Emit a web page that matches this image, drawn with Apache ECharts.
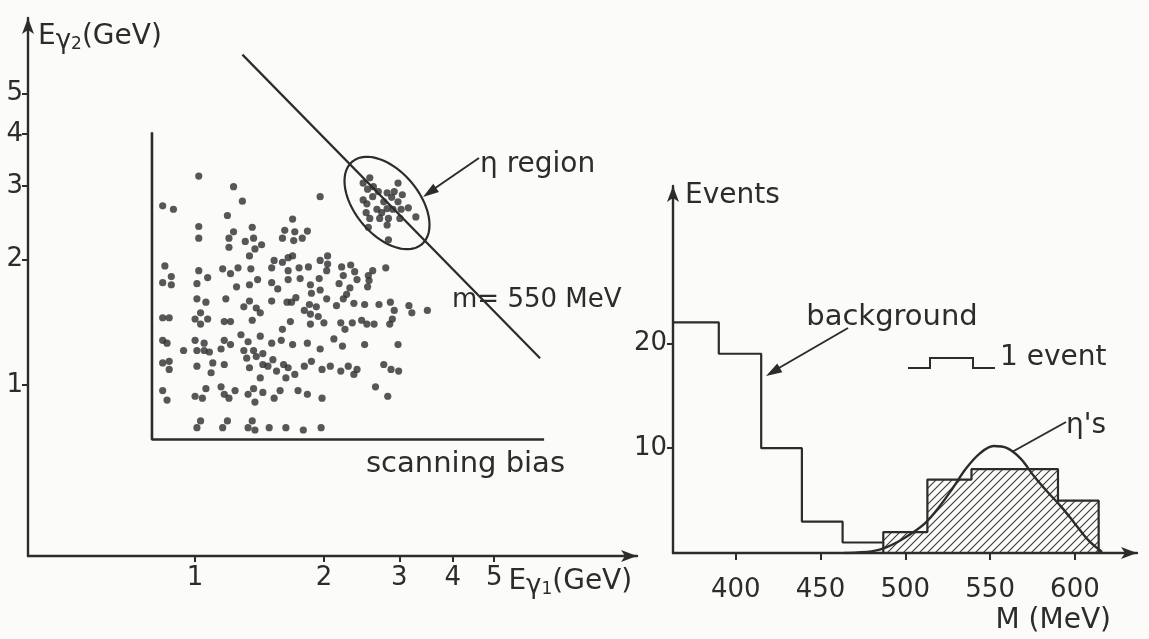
<!DOCTYPE html>
<html><head><meta charset="utf-8">
<script src="https://cdn.jsdelivr.net/npm/echarts@6/dist/echarts.min.js"></script>
<style>html,body{margin:0;padding:0;background:#fbfbf9;}#c{width:1149px;height:639px;}</style>
</head><body><div id="c"></div>
<script>
// ---------- DATA ----------
// Left panel: photon energy pairs (GeV)
const scatterPoints = [
[1.02,3.17],[1.23,2.99],[1.29,2.76],[0.84,2.69],[0.89,2.64],[1.19,2.55],[1.02,2.40],[1.23,2.33],[1.36,2.39],[1.62,2.35],
[1.02,2.25],[1.20,2.25],[1.31,2.21],[1.37,2.25],[1.60,2.25],[1.20,2.14],[1.38,2.12],[1.43,2.17],[1.34,2.04],[1.53,1.99],
[1.60,1.97],[1.65,2.02],[0.85,1.93],[0.88,1.82],[0.84,1.76],[0.88,1.74],[1.02,1.88],[1.07,1.81],[1.01,1.75],[1.16,1.90],
[1.21,1.85],[1.26,1.91],[1.35,1.90],[1.25,1.72],[1.34,1.74],[1.40,1.79],[1.51,1.91],[1.51,1.76],[1.56,1.70],[1.65,1.88],
[1.65,1.79],[1.01,1.61],[1.18,1.61],
[1.96,2.83],[1.69,2.50],[1.71,2.33],[1.83,2.34],[1.70,2.22],[1.78,2.25],[1.69,2.04],[1.75,1.91],[1.84,1.92],[1.96,1.99],
[2.04,2.04],[2.04,1.95],[2.03,1.88],[1.76,1.80],[1.95,1.80],[1.86,1.74],[2.20,1.92],[2.31,1.94],[2.22,1.83],[2.36,1.87],
[2.39,1.79],[2.54,1.83],[2.60,1.88],[2.55,1.78],[2.79,1.91],[2.17,1.75],[2.30,1.71],[2.53,1.72],
[1.06,1.58],[1.34,1.59],[1.30,1.54],[1.39,1.53],[1.42,1.49],[1.51,1.59],[1.64,1.58],[0.84,1.45],[0.87,1.45],[1.03,1.49],
[1.00,1.44],[1.07,1.44],[1.03,1.40],[1.17,1.42],[1.21,1.42],[1.36,1.43],[1.60,1.36],[1.28,1.32],[1.42,1.31],[1.59,1.28],
[1.51,1.26],[0.84,1.28],[0.86,1.26],[1.00,1.28],[1.05,1.26],[1.17,1.28],[1.21,1.25],[1.33,1.27],[0.94,1.21],[1.01,1.21],
[1.05,1.21],[1.08,1.20],[1.15,1.22],[1.30,1.21],[1.37,1.21],[1.44,1.19],[1.32,1.16],[1.39,1.17],[0.84,1.13],[0.87,1.14],
[0.87,1.09],[1.01,1.11],[1.10,1.13],[1.17,1.12],[1.34,1.10],[1.44,1.12],[1.48,1.11],[1.52,1.15],[1.55,1.08],[1.61,1.12],
[1.65,1.10],[1.09,1.07],[1.42,1.04],[1.63,1.04],[0.84,0.97],[0.86,0.92],[1.06,0.98],[1.00,0.94],[1.04,0.93],[1.15,0.99],
[1.17,0.95],[1.20,0.93],[1.24,0.97],[1.33,0.95],[1.37,0.98],[1.38,0.91],[1.44,0.96],[1.53,0.93],[1.58,0.97],[1.03,0.82],
[1.01,0.79],[1.19,0.82],[1.16,0.79],[1.36,0.82],[1.33,0.79],[1.38,0.78],[1.49,0.79],[1.63,0.79],
[1.72,1.62],[1.68,1.58],[1.87,1.66],[1.96,1.69],[2.03,1.61],[2.22,1.61],[2.26,1.65],[1.85,1.56],[1.92,1.54],[2.14,1.55],
[2.35,1.57],[2.49,1.56],[2.69,1.56],[2.86,1.58],[2.92,1.51],[3.16,1.55],[3.21,1.49],[3.49,1.51],[1.80,1.51],[1.86,1.48],
[1.94,1.46],[1.67,1.42],[1.86,1.40],[2.00,1.41],[2.19,1.41],[2.33,1.41],[2.45,1.43],[2.52,1.40],[2.62,1.40],[2.85,1.40],
[2.89,1.44],[2.24,1.36],[1.69,1.25],[1.83,1.26],[2.11,1.29],[2.21,1.24],[2.49,1.25],[2.98,1.25],[1.96,1.22],[1.80,1.11],
[1.87,1.14],[1.98,1.09],[2.07,1.11],[2.19,1.08],[2.28,1.11],[2.39,1.09],[2.35,1.06],[2.76,1.12],[2.87,1.09],[2.99,1.08],
[1.71,1.06],[1.74,0.97],[1.83,0.95],[1.98,0.93],[2.64,0.99],[2.82,0.94],[1.79,0.78],[1.97,0.79]
];
const etaRegionPoints = [
[2.56,3.14],[2.47,3.05],[2.53,2.95],[2.61,2.99],[2.68,2.91],[2.98,3.05],[2.81,2.89],[2.92,2.91],[3.05,2.86],[2.60,2.83],
[2.47,2.78],[2.52,2.72],[2.88,2.82],[2.98,2.75],[2.76,2.75],[2.66,2.64],[2.81,2.65],[2.90,2.64],[3.03,2.64],[3.15,2.66],
[2.51,2.59],[2.73,2.59],[2.56,2.51],[2.70,2.51],[2.83,2.51],[3.01,2.51],[2.81,2.42],[3.28,2.53],[2.54,2.39],[2.83,2.23]
];
const massLine550 = [[1.29, 6.2], [6.4, 1.16]];          // m = 550 MeV line
const scanningBias = [[0.793, 4.04], [0.793, 0.74], [6.54, 0.74]];
const eTicks = [1, 2, 3, 4, 5];

// Right panel: mass histogram
const bgEdges = [363, 390, 415, 439, 463, 487];
const bgCounts = [22, 19, 10, 3, 1];
const etaEdges = [487, 513, 539, 564, 590, 614];
const etaCounts = [2, 7, 8, 8, 5];
const etaCurveM = [464, 472, 480, 488, 496, 504, 512, 520, 528, 536, 544, 552, 560, 568, 576, 584, 592, 600, 608, 616];
const etaCurveN = [0, 0.05, 0.15, 0.5, 1.1, 1.9, 2.9, 4.4, 6.2, 8.1, 9.5, 10.2, 10.0, 9.0, 7.3, 5.8, 4.4, 2.8, 1.2, 0.1];
const mTicks = [400, 450, 500, 550, 600];
const nTicks = [10, 20];

// ---------- CHART ----------
const ink = '#2c2c2c';
const font = 'DejaVu Sans';

function stepPts(edges, counts, closeStart, closeEnd) {
  const pts = [];
  if (closeStart) pts.push([edges[0], 0]);
  for (let i = 0; i < counts.length; i++) {
    pts.push([edges[i], counts[i]]);
    pts.push([edges[i + 1], counts[i]]);
  }
  if (closeEnd) pts.push([edges[edges.length - 1], 0]);
  return pts;
}

const hatch = document.createElement('canvas');
hatch.width = 8; hatch.height = 8;
const hc = hatch.getContext('2d');
hc.strokeStyle = '#3a3a3a'; hc.lineWidth = 1.1;
hc.beginPath();
hc.moveTo(0, 8); hc.lineTo(8, 0);
hc.moveTo(-2, 2); hc.lineTo(2, -2);
hc.moveTo(6, 10); hc.lineTo(10, 6);
hc.stroke();

const rich = {
  e: { fontSize: 28, fontFamily: font, color: ink, verticalAlign: 'top', lineHeight: 30 },
  g: { fontSize: 26, fontFamily: font, color: ink, verticalAlign: 'top', lineHeight: 30, padding: [5, 0, 0, 0] },
  s: { fontSize: 17, fontFamily: font, color: ink, verticalAlign: 'bottom', lineHeight: 17 }
};

const axisLineStyle = { color: ink, width: 2.4 };

// ellipse for eta region (annotation) in pixel space
function ellipsePts(cx, cy, a, b, deg) {
  const p = [], f = deg * Math.PI / 180;
  for (let k = 0; k < 90; k++) {
    const t = k / 90 * 2 * Math.PI;
    p.push([cx + a * Math.cos(t) * Math.cos(f) - b * Math.sin(t) * Math.sin(f),
            cy + a * Math.cos(t) * Math.sin(f) + b * Math.sin(t) * Math.cos(f)]);
  }
  return p;
}
function arrowHead(x1, y1, x2, y2, len, w) {
  const ang = Math.atan2(y2 - y1, x2 - x1);
  const bx = x2 - len * Math.cos(ang), by = y2 - len * Math.sin(ang);
  return [[x2, y2], [bx + w * Math.sin(ang), by - w * Math.cos(ang)], [bx - w * Math.sin(ang), by + w * Math.cos(ang)]];
}
const txt = (x, y, s, size, align) => ({
  type: 'text', x: x, y: y, silent: true,
  style: { text: s, fill: ink, font: (size || 28) + 'px "' + font + '"', textAlign: align || 'left', textVerticalAlign: 'middle' }
});

const chart = echarts.init(document.getElementById('c'), null, { renderer: 'canvas' });
chart.setOption({
  animation: false,
  backgroundColor: '#fbfbf9',
  grid: [
    { left: 28, right: 512, top: 18, bottom: 83 },
    { left: 673, right: 12, top: 186, bottom: 86 }
  ],
  xAxis: [
    { gridIndex: 0, type: 'log', logBase: 10, min: 0.407, max: 10.78,
      axisLine: { lineStyle: axisLineStyle, symbol: ['none', 'arrow'], symbolSize: [9, 16] },
      axisTick: { customValues: eTicks, length: 6, lineStyle: { color: ink, width: 2 } },
      axisLabel: { customValues: eTicks, fontSize: 26, fontFamily: font, color: ink, margin: 9 },
      splitLine: { show: false }, minorTick: { show: false },
      name: '{e|E}{g|γ}{s|1}{e|(GeV)}', nameLocation: 'end', nameGap: -14,
      nameTextStyle: { align: 'right', verticalAlign: 'top', padding: [12, 0, 0, 0], rich: rich } },
    { gridIndex: 1, type: 'value', min: 363, max: 636.6,
      axisLine: { lineStyle: axisLineStyle, symbol: ['none', 'arrow'], symbolSize: [9, 16] },
      axisTick: { customValues: mTicks, length: 7, lineStyle: { color: ink, width: 2 } },
      axisLabel: { customValues: mTicks, fontSize: 26, fontFamily: font, color: ink, margin: 24 },
      splitLine: { show: false },
      name: 'M (MeV)', nameLocation: 'end', nameGap: -26,
      nameTextStyle: { align: 'right', verticalAlign: 'top', padding: [54, 0, 0, 0], fontSize: 28, fontFamily: font, color: ink } }
  ],
  yAxis: [
    { gridIndex: 0, type: 'log', logBase: 10, min: 0.389, max: 7.59,
      axisLine: { lineStyle: axisLineStyle, symbol: ['none', 'arrow'], symbolSize: [9, 16] },
      axisTick: { customValues: eTicks, length: 6, lineStyle: { color: ink, width: 2 } },
      axisLabel: { customValues: eTicks, fontSize: 26, fontFamily: font, color: ink, margin: 5 },
      splitLine: { show: false }, minorTick: { show: false },
      name: '{e|E}{g|γ}{s|2}{e|(GeV)}', nameLocation: 'end', nameGap: -20,
      nameTextStyle: { align: 'left', verticalAlign: 'middle', padding: [0, 0, 0, 10], rich: rich } },
    { gridIndex: 1, type: 'value', min: 0, max: 35,
      axisLine: { lineStyle: axisLineStyle, symbol: ['none', 'arrow'], symbolSize: [9, 16] },
      axisTick: { customValues: nTicks, length: 6, lineStyle: { color: ink, width: 2 } },
      axisLabel: { customValues: nTicks, fontSize: 26, fontFamily: font, color: ink, margin: 6 },
      splitLine: { show: false },
      name: 'Events', nameLocation: 'end', nameGap: -10,
      nameTextStyle: { align: 'left', verticalAlign: 'middle', padding: [0, 0, 0, 12], fontSize: 28, fontFamily: font, color: ink } }
  ],
  series: [
    { type: 'scatter', xAxisIndex: 0, yAxisIndex: 0, data: scatterPoints, symbolSize: 7.2,
      itemStyle: { color: '#2e2e2e' }, silent: true },
    { type: 'scatter', xAxisIndex: 0, yAxisIndex: 0, data: etaRegionPoints, symbolSize: 7.2,
      itemStyle: { color: '#2e2e2e' }, silent: true },
    { type: 'line', xAxisIndex: 0, yAxisIndex: 0, data: massLine550, symbol: 'none',
      lineStyle: { color: ink, width: 2.2 }, silent: true },
    { type: 'line', xAxisIndex: 0, yAxisIndex: 0, data: scanningBias, symbol: 'none',
      lineStyle: { color: ink, width: 2.6 }, silent: true },
    { type: 'line', xAxisIndex: 1, yAxisIndex: 1, data: stepPts(bgEdges, bgCounts, false, false), symbol: 'none',
      lineStyle: { color: ink, width: 2.2 }, silent: true },
    { type: 'line', xAxisIndex: 1, yAxisIndex: 1, data: stepPts(etaEdges, etaCounts, true, true), symbol: 'none',
      lineStyle: { color: ink, width: 2.2 }, areaStyle: { color: { image: hatch, repeat: 'repeat' }, opacity: 1 }, silent: true },
    { type: 'line', xAxisIndex: 1, yAxisIndex: 1, data: etaCurveM.map((m, i) => [m, etaCurveN[i]]), symbol: 'none',
      smooth: 0.35, lineStyle: { color: ink, width: 2.4 }, silent: true }
  ],
  graphic: [
    { type: 'polygon', silent: true, shape: { points: ellipsePts(387, 203, 54, 32, 50) },
      style: { fill: 'none', stroke: ink, lineWidth: 2.2 } },
    { type: 'line', silent: true, shape: { x1: 479, y1: 158, x2: 428, y2: 193 }, style: { stroke: ink, lineWidth: 2 } },
    { type: 'polygon', silent: true, shape: { points: arrowHead(479, 158, 423, 197, 16, 5) }, style: { fill: ink } },
    txt(480, 165, 'η region'),
    txt(452, 300, 'm= 550 MeV', 26),
    txt(366, 464, 'scanning bias', 29),
    txt(892, 317, 'background', 29, 'center'),
    { type: 'line', silent: true, shape: { x1: 848, y1: 328, x2: 772, y2: 372 }, style: { stroke: ink, lineWidth: 2 } },
    { type: 'polygon', silent: true, shape: { points: arrowHead(848, 328, 766, 376, 16, 5) }, style: { fill: ink } },
    { type: 'polyline', silent: true, shape: { points: [[908, 368], [930, 368], [930, 358], [973, 358], [973, 368], [995, 368]] },
      style: { stroke: ink, lineWidth: 2, fill: 'none' } },
    txt(1000, 358, '1 event'),
    { type: 'line', silent: true, shape: { x1: 1012, y1: 452, x2: 1066, y2: 422 }, style: { stroke: ink, lineWidth: 2 } },
    txt(1066, 426, 'η\'s')
  ]
});
</script></body></html>
